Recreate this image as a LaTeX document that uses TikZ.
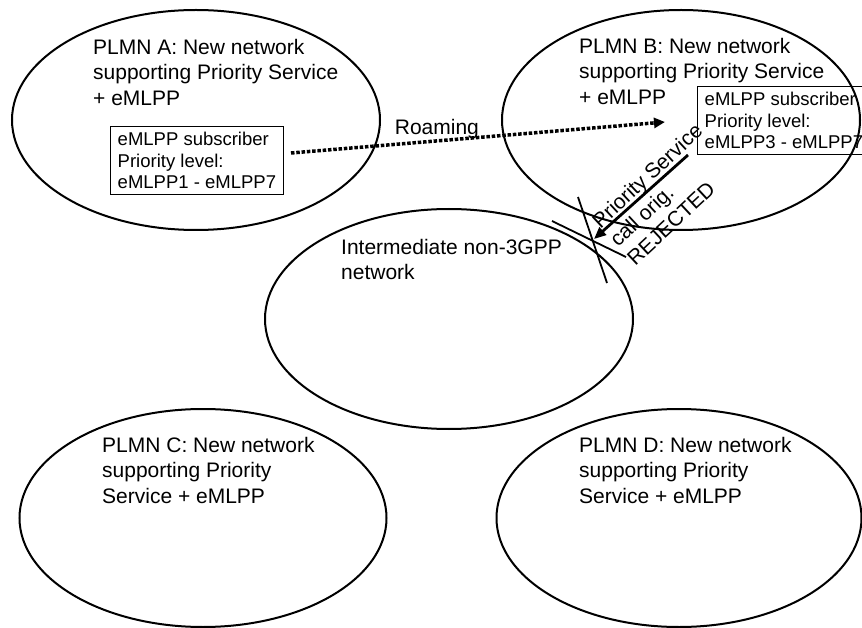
\documentclass[tikz,border=0pt]{standalone}
\usepackage{fontspec}
\setmainfont{Liberation Sans}
\usetikzlibrary{shapes.geometric,arrows.meta}
\begin{document}
\begin{tikzpicture}[x=1pt,y=-1pt,
  net/.style={ellipse,draw,line width=2pt,inner sep=0pt},
  lbl/.style={anchor=north west,inner sep=0pt,align=left,font=\fontsize{21}{25.5}\selectfont},
  subbox/.style={draw,line width=0.8pt,anchor=north west,align=left,
    inner sep=0pt,minimum width=173pt,minimum height=68pt,font=\fontsize{18.5}{21.5}\selectfont},
  roam/.style={line width=3.5pt,dash pattern=on 3.5pt off 1.8pt,
    -{Triangle[length=11pt,width=10pt]}},
  reject/.style={line width=2.8pt,-{Triangle[length=12pt,width=10pt]}},
  cross/.style={line width=1.8pt}]
\useasboundingbox (0,0) rectangle (862,628);

% networks
\node[net,minimum width=368pt,minimum height=220pt] (A) at (196,120) {};
\node[net,minimum width=358pt,minimum height=220pt] (B) at (681,120) {};
\node[net,minimum width=368pt,minimum height=220pt] (I) at (449,319) {};
\node[net,minimum width=367pt,minimum height=218pt] (C) at (203,518) {};
\node[net,minimum width=365pt,minimum height=218pt] (D) at (679,518) {};

% labels
\node[lbl] (tA) at (93,39) {PLMN A: New network\\supporting Priority Service\\+ eMLPP};
\node[lbl] (tB) at (579,38) {PLMN B: New network\\supporting Priority Service\\+ eMLPP};
\node[lbl] (tI) at (341,239) {Intermediate non-3GPP\\network};
\node[lbl] (tC) at (102,437) {PLMN C: New network\\supporting Priority\\Service + eMLPP};
\node[lbl] (tD) at (579,437) {PLMN D: New network\\supporting Priority\\Service + eMLPP};

% subscriber boxes
\node[subbox] (boxA) at (110,126) {eMLPP subscriber\\Priority level:\\eMLPP1 - eMLPP7};
\node[subbox] (boxB) at (697,86) {eMLPP subscriber\\Priority level:\\eMLPP3 - eMLPP7};

% roaming
\coordinate (rs) at (291,153);
\coordinate (re) at (665,122);
\draw[roam] (rs) -- node[pos=0.39,anchor=south,inner sep=0pt,font=\fontsize{21}{25.5}\selectfont] (rl) {Roaming} (re);

% rejected call origination
\coordinate (ps) at (688,155);
\coordinate (pe) at (594,239);
\draw[reject] (ps) -- (pe);
\coordinate (c1a) at (578,197);
\coordinate (c1b) at (607,283);
\coordinate (c2a) at (552,221);
\coordinate (c2b) at (626,257);
\draw[cross] (c1a) -- (c1b);
\draw[cross] (c2a) -- (c2b);
\node[lbl,rotate=43] (rej) at (590,218) {Priority Service\\call orig.\\REJECTED};
\end{tikzpicture}
\end{document}
